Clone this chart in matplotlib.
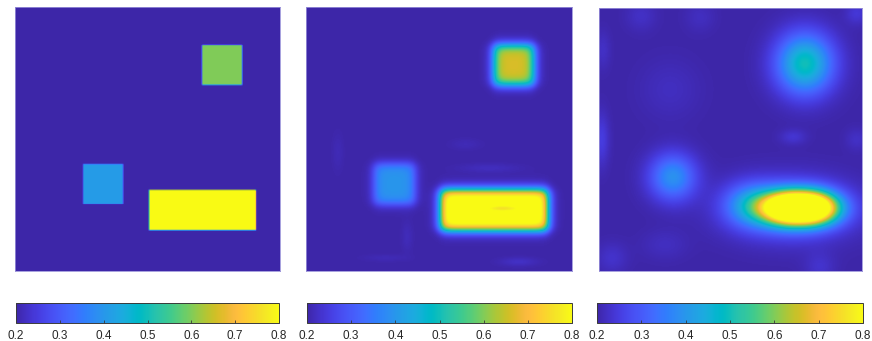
import numpy as np
import matplotlib
matplotlib.use('Agg')
import matplotlib.pyplot as plt
from matplotlib.colors import LinearSegmentedColormap

# MATLAB parula (64 samples)
parula_data = [
    [0.2422, 0.1504, 0.6603], [0.2504, 0.1650, 0.7076], [0.2578, 0.1818, 0.7511],
    [0.2647, 0.1978, 0.7952], [0.2706, 0.2147, 0.8364], [0.2751, 0.2342, 0.8710],
    [0.2783, 0.2559, 0.8991], [0.2803, 0.2782, 0.9221], [0.2813, 0.3006, 0.9414],
    [0.2810, 0.3228, 0.9579], [0.2795, 0.3447, 0.9717], [0.2760, 0.3667, 0.9829],
    [0.2699, 0.3892, 0.9906], [0.2602, 0.4123, 0.9952], [0.2440, 0.4358, 0.9988],
    [0.2206, 0.4603, 0.9973], [0.1963, 0.4847, 0.9892], [0.1834, 0.5074, 0.9798],
    [0.1786, 0.5289, 0.9682], [0.1764, 0.5499, 0.9520], [0.1687, 0.5703, 0.9359],
    [0.1540, 0.5902, 0.9218], [0.1460, 0.6091, 0.9079], [0.1380, 0.6276, 0.8973],
    [0.1248, 0.6459, 0.8883], [0.1113, 0.6635, 0.8763], [0.0952, 0.6798, 0.8598],
    [0.0689, 0.6948, 0.8394], [0.0297, 0.7082, 0.8163], [0.0036, 0.7203, 0.7917],
    [0.0067, 0.7312, 0.7660], [0.0433, 0.7411, 0.7394], [0.0964, 0.7500, 0.7120],
    [0.1408, 0.7584, 0.6842], [0.1717, 0.7670, 0.6554], [0.1938, 0.7758, 0.6251],
    [0.2161, 0.7843, 0.5923], [0.2470, 0.7918, 0.5567], [0.2906, 0.7973, 0.5188],
    [0.3406, 0.8008, 0.4789], [0.3909, 0.8029, 0.4354], [0.4456, 0.8024, 0.3909],
    [0.5044, 0.7993, 0.3480], [0.5616, 0.7942, 0.3045], [0.6174, 0.7876, 0.2612],
    [0.6720, 0.7793, 0.2227], [0.7242, 0.7698, 0.1910], [0.7738, 0.7598, 0.1646],
    [0.8203, 0.7498, 0.1535], [0.8634, 0.7406, 0.1596], [0.9035, 0.7330, 0.1774],
    [0.9393, 0.7288, 0.2100], [0.9728, 0.7298, 0.2394], [0.9956, 0.7434, 0.2371],
    [0.9970, 0.7659, 0.2199], [0.9952, 0.7893, 0.2028], [0.9892, 0.8136, 0.1885],
    [0.9786, 0.8386, 0.1766], [0.9676, 0.8639, 0.1643], [0.9610, 0.8890, 0.1537],
    [0.9597, 0.9135, 0.1423], [0.9628, 0.9373, 0.1265], [0.9691, 0.9606, 0.1064],
    [0.9769, 0.9839, 0.0805]]
parula = LinearSegmentedColormap.from_list('parula', parula_data, N=256)

clim = (0.2, 0.8)
cbar_ticks = [0.2, 0.3, 0.4, 0.5, 0.6, 0.7, 0.8]
background = 0.2

# ground truth boxes, fractions of the field (y runs downwards)
box_x0 = [0.706, 0.257, 0.506]
box_x1 = [0.857, 0.408, 0.909]
box_y0 = [0.144, 0.595, 0.693]
box_y1 = [0.295, 0.746, 0.845]
truth_val = [0.60, 0.41, 0.90]

# reconstruction 1: same boxes, softer edges
recon_val = [0.665, 0.40, 0.86]
recon_edge = 0.022
# faint artifacts of reconstruction 1
art_cx = [0.69, 0.80, 0.38, 0.74, 0.12, 0.60, 0.30]
art_cy = [0.61, 0.965, 0.87, 0.763, 0.55, 0.52, 0.95]
art_sx = [0.08, 0.05, 0.015, 0.05, 0.015, 0.04, 0.06]
art_sy = [0.012, 0.012, 0.04, 0.009, 0.05, 0.015, 0.01]
art_amp = [0.018, 0.025, 0.015, -0.10, 0.012, 0.012, 0.012]

# reconstruction 2: smooth blobs
blob_cx = [0.783, 0.281, 0.765, 0.58, 0.738, 0.16, 0.384, 0.98, 0.27, 0.01, 0.015, 0.05, 0.84, 0.98, 0.25, 0.73]
blob_cy = [0.212, 0.643, 0.760, 0.75, 0.49, 0.03, 0.034, 0.02, 0.31, 0.50, 0.16, 0.95, 0.985, 0.50, 0.90, 0.765]
blob_sx = [0.075, 0.062, 0.095, 0.07, 0.035, 0.04, 0.04, 0.03, 0.08, 0.02, 0.02, 0.04, 0.04, 0.03, 0.06, 0.15]
blob_sy = [0.080, 0.062, 0.042, 0.055, 0.02, 0.04, 0.04, 0.03, 0.08, 0.07, 0.05, 0.04, 0.04, 0.03, 0.04, 0.075]
blob_px = [2, 2, 2.3, 2, 2, 2, 2, 2, 2, 2, 2, 2, 2, 2, 2, 2]
blob_py = [2, 2, 2, 2, 2, 2, 2, 2, 2, 2, 2, 2, 2, 2, 2, 2]
blob_amp = [0.30, 0.19, 1.05, 0.18, 0.035, 0.025, 0.02, 0.04, 0.02, 0.05, 0.025, 0.03, 0.03, 0.025, 0.02, 0.16]

N = 256
g = (np.arange(N) + 0.5) / N
X, Y = np.meshgrid(g, g)


def step(t, w):
    return 0.5 * (1 + np.tanh(t / w))


def boxes(vals, w):
    f = np.full((N, N), background)
    for x0, x1, y0, y1, v in zip(box_x0, box_x1, box_y0, box_y1, vals):
        m = step(X - x0, w) * step(x1 - X, w) * step(Y - y0, w) * step(y1 - Y, w)
        f = f + (v - background) * m
    return f


def blobs(f, cx, cy, sx, sy, amp, px=None, py=None):
    for i in range(len(cx)):
        ex = px[i] if px else 2
        ey = py[i] if py else 2
        r = np.abs((X - cx[i]) / sx[i]) ** ex + np.abs((Y - cy[i]) / sy[i]) ** ey
        f = f + amp[i] * np.exp(-0.5 * r)
    return f


field1 = boxes(truth_val, 0.0015)
field2 = blobs(boxes(recon_val, recon_edge), art_cx, art_cy, art_sx, art_sy, art_amp)
field3 = blobs(np.full((N, N), background), blob_cx, blob_cy, blob_sx, blob_sy,
               blob_amp, blob_px, blob_py)

W, H = 872, 341
fig = plt.figure(figsize=(W / 100, H / 100), dpi=100)
plt.rcParams['font.family'] = ['Liberation Sans', 'DejaVu Sans']

img_pos = [(15, 7, 265, 264), (306, 7, 266, 264), (599, 8, 263, 263)]
cb_pos = [(16, 303, 263, 20), (307, 303, 265, 20), (597, 303, 266, 20)]

for field, (l, t, w, h), (cl, ct, cw, ch) in zip([field1, field2, field3], img_pos, cb_pos):
    ax = fig.add_axes([l / W, 1 - (t + h) / H, w / W, h / H])
    im = ax.imshow(field, cmap=parula, vmin=clim[0], vmax=clim[1],
                   extent=[0, 1, 1, 0], interpolation='bilinear', aspect='auto')
    ax.set_xticks([])
    ax.set_yticks([])
    for s in ax.spines.values():
        s.set_color('#9890d8')
        s.set_linewidth(0.6)
    cax = fig.add_axes([cl / W, 1 - (ct + ch) / H, cw / W, ch / H])
    cb = fig.colorbar(im, cax=cax, orientation='horizontal', ticks=cbar_ticks)
    cb.outline.set_edgecolor('#3a3a3a')
    cb.outline.set_linewidth(0.7)
    cax.tick_params(direction='in', length=2.5, width=0.6, color='#3a3a3a',
                    labelsize=8.5, labelcolor='#262626', pad=5)
    cb.set_ticklabels(['%.1f' % v for v in cbar_ticks])

fig.savefig('out.png', dpi=100)
